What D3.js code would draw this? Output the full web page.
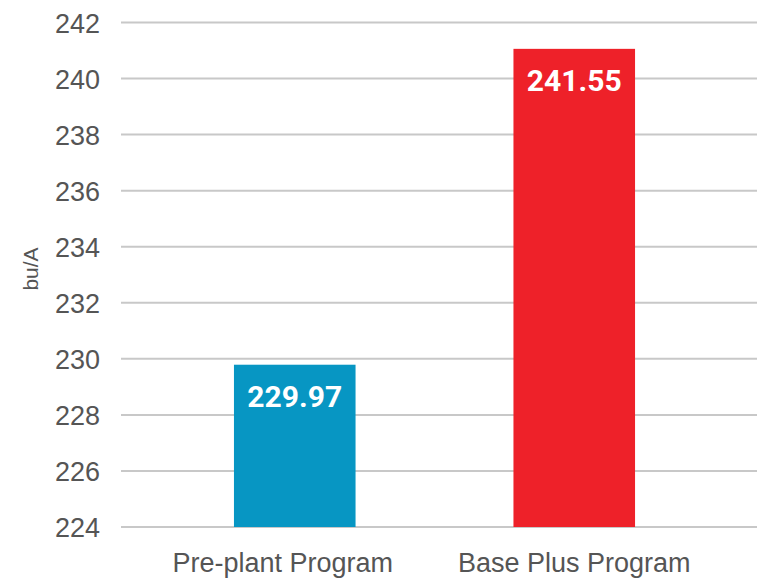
<!DOCTYPE html>
<html>
<head>
<meta charset="utf-8">
<script src="https://cdnjs.cloudflare.com/ajax/libs/d3/7.8.5/d3.min.js"></script>
<style>
  body { margin: 0; background: #fff; }
  svg { display: block; }
</style>
</head>
<body>
<svg id="chart" width="757" height="578"></svg>
<script>
// data
categories = ['Pre-plant Program', 'Base Plus Program'];
barValues = [229.79, 241.06];
valueLabels = ['229.97', '241.55'];
barColors = ['#0796c3', '#ee2129'];
yTicks = [224, 226, 228, 230, 232, 234, 236, 238, 240, 242];

svg = d3.select('#chart');

var yScale = d3.scaleLinear()
                .domain([224, 242])
                .range([527, 22.5]);

var xScale = d3.scaleBand()
                .domain(categories)
                .range([155, 714])
                .paddingInner(0.565)
                .paddingOuter(0.2825);

// gridlines
svg.append('g')
   .selectAll('line')
   .data(yTicks)
   .enter()
   .append('line')
   .attr('x1', 121)
   .attr('x2', 757)
   .attr('y1', d => yScale(d))
   .attr('y2', d => yScale(d))
   .style('stroke', '#c8c8c8')
   .style('stroke-width', 2);

// y axis labels
var yAxis = svg.append('g')
   .attr('transform', 'translate(100,0)')
   .call(d3.axisLeft(yScale).tickValues(yTicks).tickSize(0).tickPadding(0));
yAxis.select('.domain').remove();
yAxis.selectAll('text')
   .style('font-family', '"Liberation Sans", Arial, sans-serif')
   .style('font-size', '27px')
   .style('fill', '#555')
   .attr('dy', '0.36em');

// bars
svg.selectAll('.bar')
   .data(categories)
   .enter()
   .append('rect')
   .attr('class', 'bar')
   .attr('x', d => xScale(d))
   .attr('width', xScale.bandwidth())
   .attr('y', (d, i) => yScale(barValues[i]))
   .attr('height', (d, i) => yScale(224) - yScale(barValues[i]))
   .style('fill', (d, i) => barColors[i]);

// value labels inside bars
svg.selectAll('.val')
   .data(categories)
   .enter()
   .append('text')
   .attr('class', 'val')
   .attr('x', d => xScale(d) + xScale.bandwidth() / 2)
   .attr('y', (d, i) => yScale(barValues[i]) + 42)
   .attr('text-anchor', 'middle')
   .style('font-family', 'Roboto, sans-serif')
   .style('font-weight', 'bold')
   .style('font-size', '30px')
   .style('fill', '#fff')
   .text((d, i) => valueLabels[i]);

// category labels (first one sits a bit left of its bar in the original)
var xAxis = svg.append('g')
   .attr('transform', 'translate(0,527)')
   .call(d3.axisBottom(xScale).tickSize(0).tickPadding(0));
xAxis.select('.domain').remove();
xAxis.selectAll('text')
   .attr('y', 45)
   .attr('dy', 0)
   .attr('dx', (d, i) => i == 0 ? -12 : 0)
   .style('font-family', '"Liberation Sans", Arial, sans-serif')
   .style('font-size', '27px')
   .style('fill', '#555');

// axis title
svg.append('text')
   .attr('transform', 'translate(38,269) rotate(-90)')
   .attr('text-anchor', 'middle')
   .style('font-family', '"Liberation Sans", Arial, sans-serif')
   .style('font-size', '21px')
   .style('fill', '#555')
   .text('bu/A');
</script>
</body>
</html>
